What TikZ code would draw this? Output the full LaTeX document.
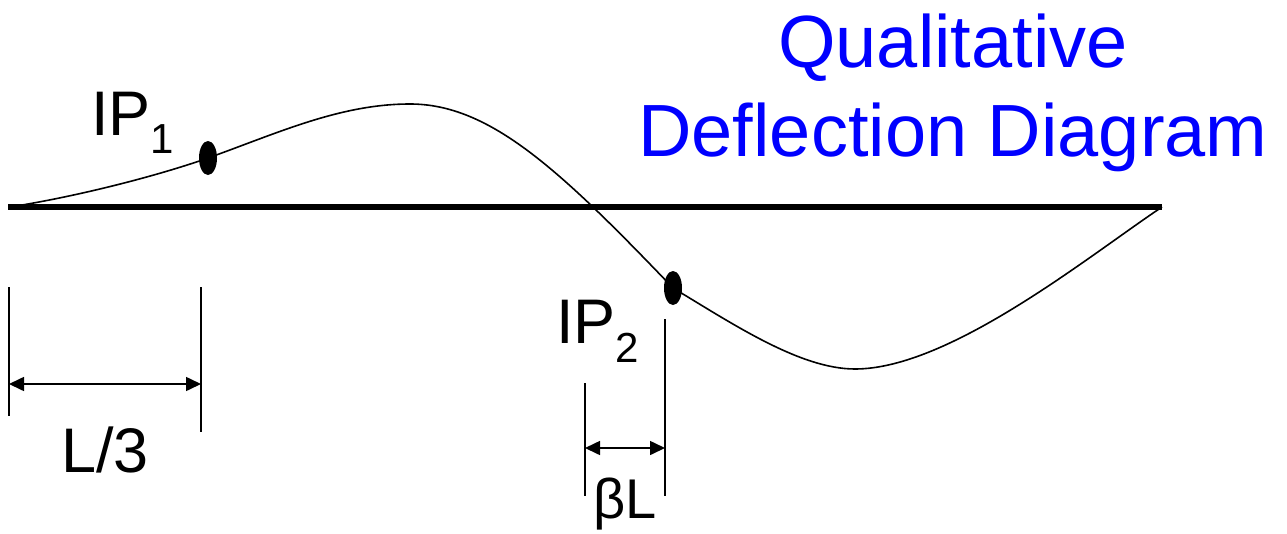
\documentclass[tikz,border=0pt]{standalone}
\usepackage{fontspec}
\setmainfont{Liberation Sans}
\usepackage{xcolor}
\usetikzlibrary{arrows.meta,shapes.geometric}
\definecolor{titleblue}{RGB}{0,0,255}

\begin{document}
\begin{tikzpicture}[x=1pt, y=-1pt,
  beam/.style={line width=6pt},
  defl/.style={line width=1.6pt},
  dimline/.style={line width=1.6pt},
  dimarrow/.style={line width=1.6pt, {Triangle[length=15pt,width=14pt]}-{Triangle[length=15pt,width=14pt]}},
  ipdot/.style={ellipse, fill=black, minimum width=18pt, minimum height=34pt, inner sep=0pt},
  lbl/.style={font=\fontsize{63}{70}\selectfont, inner sep=0pt},
  titletxt/.style={font=\fontsize{74}{89}\selectfont, text=titleblue, inner sep=0pt}]
\useasboundingbox (0,0) rectangle (1287,533);
% beam
\coordinate (bl) at (8,207);
\coordinate (br) at (1162,207);
\draw[beam] (bl) -- (br);
% inflection points
\node[ipdot] (ip1) at (208,158) {};
\node[ipdot] (ip2) at (673,288) {};
\coordinate (peak) at (410,104);
\coordinate (trough) at (855,369);
% deflected shape
\draw[defl] (10,207) .. controls (80,196) and (160,175) .. (ip1.center)
  .. controls (278,133) and (340,104) .. (peak)
  .. controls (490,104) and (560,170) .. (ip2.center)
  .. controls (733,324) and (800,369) .. (trough)
  .. controls (950,369) and (1090,255) .. (br);
\node[lbl, anchor=base west] (ip1lbl) at (91,135) {IP\raisebox{-18pt}{\fontsize{42}{42}\selectfont 1}};
\node[lbl, anchor=base west] (ip2lbl) at (556,343) {IP\raisebox{-19pt}{\fontsize{42}{42}\selectfont 2}};
% dimension L/3
\coordinate (a1) at (9,287);  \coordinate (a2) at (9,416);
\coordinate (b1) at (201,287); \coordinate (b2) at (201,432);
\coordinate (la) at (9,384);  \coordinate (lb) at (201,384);
\draw[dimline] (a1) -- (a2);
\draw[dimline] (b1) -- (b2);
\draw[dimarrow] (la) -- (lb);
\node[lbl, anchor=base] (third) at (105,472) {L/3};
% dimension beta L
\coordinate (c1) at (585,383); \coordinate (c2) at (585,496);
\coordinate (d1) at (665,319); \coordinate (d2) at (665,496);
\coordinate (ca) at (585,448); \coordinate (db) at (665,448);
\draw[dimline] (c1) -- (c2);
\draw[dimline] (d1) -- (d2);
\draw[dimarrow] (ca) -- (db);
\node[lbl, font=\fontsize{56}{62}\selectfont, anchor=base] (beta) at (625,518) {βL};
% title
\node[titletxt, anchor=base] (title1) at (953,67) {Qualitative};
\node[titletxt, anchor=base] (title2) at (953,156) {Deflection Diagram};
\end{tikzpicture}
\end{document}
